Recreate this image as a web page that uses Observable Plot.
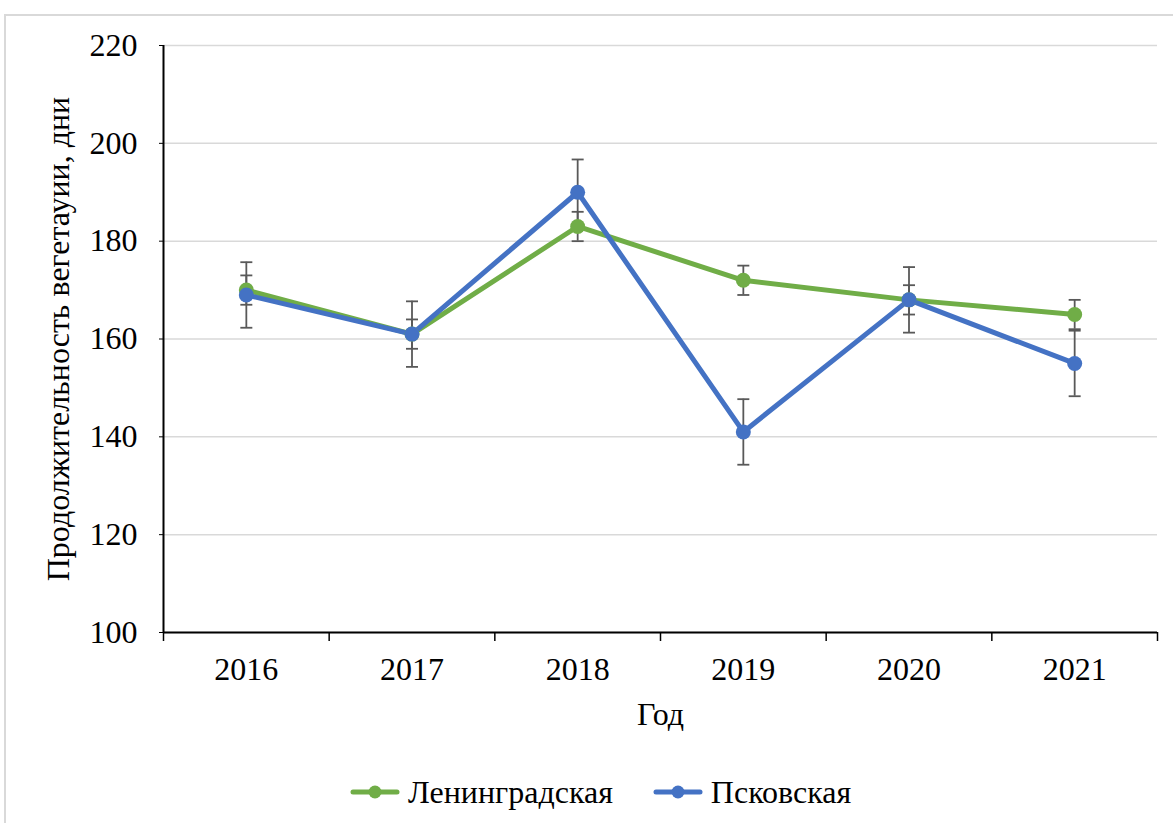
<!DOCTYPE html>
<html>
<head>
<meta charset="utf-8">
<script src="https://cdn.jsdelivr.net/npm/d3@7"></script>
<script src="https://cdn.jsdelivr.net/npm/@observablehq/plot@0.6"></script>
<style>
  html, body { margin: 0; padding: 0; background: #fff; }
  body { width: 1173px; height: 823px; position: relative; overflow: hidden; font-family: "Liberation Serif", "Times New Roman", serif; }
  #frame { position: absolute; left: 4px; top: 14px; width: 1300px; height: 900px; border-left: 2px solid #d9d9d9; border-top: 2px solid #d9d9d9; }
  #chart { position: absolute; left: 0; top: 0; }
  #legend { position: absolute; left: 350px; top: 772px; display: flex; align-items: center; font-size: 32px; line-height: 40px; color: #000; white-space: nowrap; }
  #legend .item { display: flex; align-items: center; margin-right: 40px; }
  #legend svg { margin-right: 8px; }
</style>
</head>
<body>
<div id="frame"></div>
<div id="chart"></div>
<div id="legend"></div>
<script>
// Growing season length by year, two regions, with error bars
const years = [2016, 2017, 2018, 2019, 2020, 2021];
const leningrad = [170, 161, 183, 172, 168, 165];
const pskov = [169, 161, 190, 141, 168, 155];
const leningradErr = [3, 3, 3, 3, 3, 3];
const pskovErr = [6.7, 6.7, 6.7, 6.7, 6.7, 6.7];
const yTicks = [100, 120, 140, 160, 180, 200, 220];
const seriesNames = ["Ленинградская", "Псковская"];
const seriesColors = ["#70ad47", "#4472c4"];

const rows = [];
years.forEach((yr, i) => {
  rows.push({year: yr, value: leningrad[i], err: leningradErr[i], series: seriesNames[0]});
});
years.forEach((yr, i) => {
  rows.push({year: yr, value: pskov[i], err: pskovErr[i], series: seriesNames[1]});
});

// category boundaries for the x tick marks
const bounds = [years[0] - 0.5, ...years.map(y => y + 0.5)];

// horizontal cap used at the ends of each error bar
const capSymbol = {
  draw(ctx) { ctx.moveTo(-6, 0); ctx.lineTo(6, 0); }
};

const color = {domain: seriesNames, range: seriesColors};
const serif = "Liberation Serif, Times New Roman, serif";

const chart = Plot.plot({
  width: 1173,
  height: 745,
  marginLeft: 163,
  marginRight: 16,
  marginTop: 45,
  marginBottom: 113,
  style: {fontFamily: serif, fontSize: "32px", color: "#000", background: "transparent"},
  x: {type: "linear", domain: [bounds[0], bounds[bounds.length - 1]]},
  y: {domain: [100, 220]},
  color,
  marks: [
    Plot.gridY(yTicks, {stroke: "#d9d9d9", strokeOpacity: 1, strokeWidth: 1.5}),
    // error bars
    Plot.ruleX(rows, {x: "year", y1: d => d.value - d.err, y2: d => d.value + d.err, stroke: "#595959", strokeWidth: 1.8}),
    Plot.dot(rows, {x: "year", y: d => d.value + d.err, symbol: capSymbol, r: 6, stroke: "#595959", strokeWidth: 1.8, fill: "none"}),
    Plot.dot(rows, {x: "year", y: d => d.value - d.err, symbol: capSymbol, r: 6, stroke: "#595959", strokeWidth: 1.8, fill: "none"}),
    // series lines then markers
    Plot.line(rows, {x: "year", y: "value", z: "series", stroke: "series", strokeWidth: 5, strokeLinejoin: "round", strokeLinecap: "round"}),
    Plot.dot(rows, {x: "year", y: "value", fill: "series", r: 7.5, stroke: "none"}),
    // axes
    Plot.axisY({ticks: yTicks, tickSize: 4, tickPadding: 22, tickFormat: d => String(d), label: "Продолжительность вегетауии, дни", labelAnchor: "center", labelOffset: 117, labelArrow: "none", fontSize: 32, fontFamily: serif}),
    Plot.ruleX([bounds[0]], {stroke: "#000", strokeWidth: 2}),
    Plot.ruleY([100], {stroke: "#000", strokeWidth: 2}),
    Plot.axisX({ticks: bounds, tickSize: 9, tickFormat: () => "", label: null, strokeWidth: 1.5}),
    Plot.axisX({ticks: years, tickSize: 0, tickPadding: 25, tickFormat: d => String(d), label: "Год", labelAnchor: "center", labelOffset: 92, labelArrow: "none", fontSize: 32, fontFamily: serif})
  ]
});
document.getElementById("chart").appendChild(chart);

// legend
const legend = document.getElementById("legend");
seriesNames.forEach((name, i) => {
  const item = document.createElement("div");
  item.className = "item";
  const ns = "http://www.w3.org/2000/svg";
  const sw = document.createElementNS(ns, "svg");
  sw.setAttribute("width", 50);
  sw.setAttribute("height", 20);
  const ln = document.createElementNS(ns, "line");
  ln.setAttribute("x1", 3); ln.setAttribute("x2", 47);
  ln.setAttribute("y1", 10); ln.setAttribute("y2", 10);
  ln.setAttribute("stroke", seriesColors[i]);
  ln.setAttribute("stroke-width", 5);
  ln.setAttribute("stroke-linecap", "round");
  const c = document.createElementNS(ns, "circle");
  c.setAttribute("cx", 25); c.setAttribute("cy", 10); c.setAttribute("r", 6.5);
  c.setAttribute("fill", seriesColors[i]);
  sw.appendChild(ln); sw.appendChild(c);
  const t = document.createElement("span");
  t.textContent = name;
  item.appendChild(sw); item.appendChild(t);
  legend.appendChild(item);
});
</script>
</body>
</html>
